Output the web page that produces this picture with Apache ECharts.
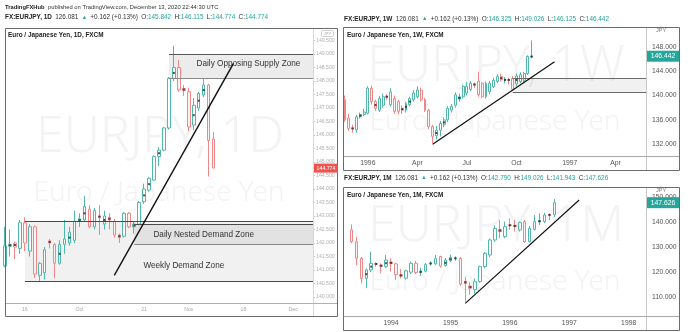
<!DOCTYPE html>
<html>
<head>
<meta charset="utf-8">
<script src="https://cdn.jsdelivr.net/npm/echarts@6/dist/echarts.min.js"></script>
<style>
html, body { margin: 0; padding: 0; background: #ffffff; }
#chart { width: 696px; height: 332px; }
</style>
</head>
<body>
<div id="chart"></div>
<script>
// ---- EUR/JPY candles, each row is [open, close, low, high] ----

// Daily, 10 Sep 1996 onwards (63 slots on the time axis, 43 candles)
const dailyCandles = [
  [141.15, 141.90, 141.10, 142.60],
  [141.88, 141.95, 141.50, 142.50],
  [142.00, 141.85, 141.40, 142.05],
  [141.80, 142.75, 141.60, 142.85],
  [142.75, 142.00, 141.70, 142.95],
  [141.70, 142.60, 141.50, 142.70],
  [142.60, 140.85, 140.70, 142.65],
  [140.80, 141.25, 140.60, 141.30],
  [140.90, 141.75, 140.65, 141.85],
  [142.08, 142.00, 141.80, 142.15],
  [141.95, 141.25, 140.70, 142.00],
  [141.25, 141.95, 141.20, 142.10],
  [141.95, 142.15, 141.60, 142.85],
  [142.00, 142.40, 141.90, 142.60],
  [142.10, 142.80, 142.00, 143.20],
  [142.80, 142.90, 142.60, 143.10],
  [142.85, 143.35, 142.80, 143.75],
  [143.25, 142.60, 142.55, 143.40],
  [142.60, 143.20, 142.50, 143.30],
  [143.00, 142.95, 142.30, 143.40],
  [142.70, 143.00, 142.50, 143.20],
  [142.95, 142.85, 142.50, 143.10],
  [142.80, 142.30, 142.20, 142.90],
  [142.30, 142.20, 142.00, 142.35],
  [142.25, 143.10, 142.20, 143.15],
  [143.10, 142.60, 142.55, 143.15],
  [142.60, 142.70, 142.35, 142.80],
  [142.70, 143.50, 142.65, 143.55],
  [143.53, 144.00, 143.45, 144.20],
  [143.96, 144.40, 143.90, 144.45],
  [144.33, 145.20, 144.30, 145.25],
  [145.20, 145.44, 144.85, 145.55],
  [145.44, 146.26, 145.40, 146.30],
  [146.26, 148.10, 146.20, 148.15],
  [148.10, 148.50, 148.00, 149.30],
  [148.50, 147.67, 147.60, 148.78],
  [147.72, 147.65, 147.45, 147.85],
  [147.60, 146.30, 146.15, 147.75],
  [146.37, 147.10, 146.19, 147.37],
  [147.00, 147.54, 146.90, 147.60],
  [147.48, 147.85, 147.40, 148.07],
  [147.85, 145.80, 144.46, 147.90],
  [145.842, 144.774, 144.774, 146.115]
];
const dailySlots = 63;
const dailyTicks = [[4, '16'], [15, 'Oct'], [28, '21'], [37, 'Nov'], [48, '18'], [58, 'Dec']];
const dailyPriceTicks = [140, 140.5, 141, 141.5, 142, 142.5, 143, 143.5, 144, 144.5,
                         145, 145.5, 146, 146.5, 147, 147.5, 148, 148.5, 149, 149.5];
const dailyMarked = [1, 2, 9, 11, 13, 15, 16, 19, 20, 21, 23, 26, 28, 29, 31, 34, 36, 38, 39, 40];
const dailyLast = 144.774;

// Daily zones: [from slot, low, high]
const supplyZone = [33, 148.10, 149.00];
const weeklyDemandZone = [4, 140.57, 142.79];
const nestedDemandZone = [26, 141.95, 142.69];
const dailyTrend = [[22, 140.80], [46, 148.65]];

// Weekly, week of 20 Nov 1995 onwards (80 slots, 50 candles)
const weeklyCandles = [
  [139.3, 136.0, 135.7, 140.0], [136.3, 134.6, 134.2, 137.0], [134.7, 134.5, 133.9, 135.2],
  [134.4, 136.5, 133.9, 136.8], [136.5, 136.9, 136.2, 137.2], [136.9, 137.3, 136.6, 137.8],
  [137.1, 141.2, 136.9, 141.5], [141.2, 139.0, 138.5, 141.6], [139.0, 137.9, 137.5, 139.3],
  [137.6, 139.5, 137.3, 139.9], [138.4, 139.8, 138.0, 140.3], [139.9, 139.7, 139.3, 140.2],
  [138.5, 140.6, 138.2, 141.2], [139.5, 137.4, 137.0, 140.0], [139.0, 137.4, 136.9, 139.3],
  [137.9, 137.6, 137.0, 138.4], [137.6, 138.7, 137.2, 139.0], [138.5, 139.5, 138.2, 139.8],
  [139.3, 140.4, 139.0, 140.9], [139.8, 140.9, 139.5, 141.5], [140.9, 139.3, 139.0, 141.3],
  [139.3, 137.6, 137.3, 139.6], [137.6, 134.9, 134.5, 137.8], [134.9, 133.3, 132.2, 135.2],
  [133.4, 134.3, 132.8, 135.0], [134.3, 135.4, 133.3, 135.8], [135.2, 136.0, 134.8, 136.4],
  [136.0, 137.9, 135.6, 138.3], [137.6, 138.2, 137.2, 138.6], [138.4, 140.1, 138.0, 140.5],
  [139.4, 139.8, 139.0, 140.3], [139.8, 141.5, 139.5, 141.8], [140.4, 141.5, 140.0, 142.2],
  [141.0, 142.0, 140.7, 142.4], [141.9, 141.7, 141.2, 142.1], [142.3, 140.1, 139.8, 143.9],
  [142.0, 139.8, 139.6, 142.2], [139.8, 142.0, 139.5, 142.3], [140.6, 142.0, 140.2, 142.4],
  [141.5, 142.5, 141.2, 142.9], [142.3, 143.1, 142.0, 143.5], [143.1, 142.6, 142.3, 143.6],
  [142.4, 142.7, 142.0, 143.0], [142.6, 142.5, 141.8, 142.9], [142.8, 141.0, 140.85, 143.2],
  [141.9, 143.2, 141.5, 143.6], [142.3, 143.4, 142.0, 143.8], [142.5, 143.6, 142.2, 143.9],
  [143.6, 146.4, 143.4, 146.6], [146.325, 146.442, 146.125, 149.026]
];
const weeklySlots = 80;
const weeklyTicks = [[6, '1996'], [19, 'Apr'], [32, 'Jul'], [45, 'Oct'], [59, '1997'], [71, 'Apr']];
const weeklyPriceTicks = [132, 136, 140, 144, 148];
const weeklyMarked = [2, 4, 8, 11, 15, 16, 17, 24, 26, 30, 34, 41, 42, 43, 45, 49];
const weeklyLast = 146.442;
const weeklyZone = [44, 140.57, 142.79];
const weeklyTrend = [[23, 132.0], [55, 145.55]];

// Monthly, Apr 1993 onwards (61 slots; Apr 1993 has no candle)
const monthlyCandles = [
  ['-', '-', '-', '-'],
  [136.8, 132.1, 131.5, 139.0], [132.1, 125.5, 122.8, 134.1], [125.5, 117.5, 115.5, 126.0],
  [117.5, 120.9, 113.6, 121.5], [120.9, 123.5, 120.0, 128.1], [123.4, 123.1, 122.2, 123.9],
  [122.8, 122.3, 119.5, 123.5], [122.3, 124.8, 121.6, 126.8], [124.0, 123.4, 120.2, 125.5],
  [123.3, 119.0, 116.8, 123.8], [119.0, 118.4, 117.5, 121.2], [117.6, 120.5, 117.0, 121.0],
  [120.0, 123.5, 119.3, 124.2], [123.5, 119.8, 119.2, 124.5], [119.8, 120.4, 118.5, 121.8],
  [120.4, 123.0, 119.9, 123.6], [123.3, 123.6, 122.6, 124.4], [123.3, 125.4, 122.9, 126.8],
  [126.2, 122.4, 121.8, 126.5], [122.6, 124.8, 122.2, 125.6], [124.5, 125.8, 123.9, 127.0],
  [125.4, 125.6, 124.5, 126.3], [125.5, 115.2, 114.5, 126.0], [116.4, 115.5, 108.2, 118.1],
  [114.5, 113.6, 111.0, 116.0], [113.0, 116.2, 111.5, 117.5], [116.2, 122.2, 115.8, 122.6],
  [122.2, 127.5, 121.5, 128.0], [126.8, 132.8, 126.0, 133.4], [132.8, 137.4, 132.0, 138.6],
  [137.0, 136.1, 133.4, 140.7], [134.1, 138.1, 133.5, 140.1], [138.8, 138.5, 136.8, 141.4],
  [138.6, 138.1, 136.1, 140.7], [136.8, 139.7, 136.1, 140.1], [140.1, 132.1, 131.5, 140.7],
  [132.1, 137.4, 131.8, 138.3], [137.0, 140.1, 136.5, 142.7], [140.0, 140.5, 138.7, 143.4],
  [140.1, 142.7, 139.5, 143.6], [142.9, 142.6, 140.7, 143.4], [142.79, 147.626, 141.943, 149.026]
];
const monthlySlots = 61;
const monthlyTicks = [[9, '1994'], [21, '1995'], [33, '1996'], [45, '1997'], [57, '1998']];
const monthlyPriceTicks = [110, 120, 130, 140, 150];
const monthlyMarked = [4, 5, 6, 7, 8, 9, 11, 15, 17, 20, 21, 22, 24, 25, 31, 33, 34, 39, 41];
const monthlyLast = 147.626;
const monthlyTrend = [[24, 107.6], [47, 148.7]];

// ---- styling ----
const UP = '#4fb8a8';
const DOWN = '#ee8787';
const TEAL = '#26a69a';
const RED = '#ef5350';
const FONT = '"Liberation Sans", Arial, sans-serif';

const slots = n => Array.from({ length: n }, (_, i) => i);
const tickMap = ticks => new Map(ticks);

function xAxisFor(grid, n, ticks, boundaryGap, fontSize, color, margin) {
  const m = tickMap(ticks);
  return {
    type: 'category', gridIndex: grid, data: slots(n), boundaryGap,
    axisLine: { show: false }, axisTick: { show: false }, splitLine: { show: false },
    axisLabel: {
      interval: (i) => m.has(i), formatter: (v, i) => m.get(i) || '',
      fontSize, color, margin, fontFamily: FONT
    }
  };
}

function yAxisFor(grid, min, max, values, fontSize, color, margin, tick) {
  return {
    type: 'value', gridIndex: grid, position: 'right', min, max, scale: true,
    axisLine: { show: false }, splitLine: { show: false },
    axisTick: tick ? { show: true, length: 2, lineStyle: { color: '#c8c8c8' }, customValues: values } : { show: false },
    axisLabel: { customValues: values, fontSize, color, margin, fontFamily: FONT,
                 formatter: v => v.toFixed(3) }
  };
}

function candles(idx, data, barWidth, extra) {
  return Object.assign({
    type: 'candlestick', xAxisIndex: idx, yAxisIndex: idx, data, barWidth, clip: true,
    itemStyle: { color: '#ffffff', color0: '#fff4f4', borderColor: UP, borderColor0: DOWN, borderWidth: 1 },
    emphasis: { disabled: true }
  }, extra || {});
}

function marks(idx, data, rows) {
  return {
    type: 'scatter', xAxisIndex: idx, yAxisIndex: idx, symbol: 'rect', symbolSize: [2, 2],
    itemStyle: { color: '#222' }, silent: true, z: 4,
    data: rows.map(i => [i, (data[i][0] + data[i][1]) / 2])
  };
}

function trendLine(seg, width) {
  return [{ coord: seg[0], lineStyle: { color: '#111', width, type: 'solid' } }, { coord: seg[1] }];
}

function zoneLines(zone, lastSlot, topColor, bottomColor) {
  return [
    [{ coord: [zone[0], zone[2]], lineStyle: { color: topColor, width: 1, type: 'solid' } }, { coord: [lastSlot, zone[2]] }],
    [{ coord: [zone[0], zone[1]], lineStyle: { color: bottomColor, width: 1, type: 'solid' } }, { coord: [lastSlot, zone[1]] }]
  ];
}

function zoneArea(zone, lastSlot, fill) {
  return [{ xAxis: zone[0], yAxis: zone[2], itemStyle: { color: fill } }, { xAxis: lastSlot, yAxis: zone[1] }];
}

function zoneText(text, coord) {
  return { coord, symbolSize: 0, label: { show: true, position: 'inside', formatter: text,
           color: '#333', fontSize: 8.2, fontFamily: FONT } };
}

// ---- static text and frames ----
const g = [];
function text(x, y, str, style) {
  g.push({ type: 'text', x, y, silent: true, z: 20,
           style: Object.assign({ text: str, fill: '#333', font: '6px ' + FONT }, style || {}) });
}
function line(x1, y1, x2, y2, color, z) {
  g.push({ type: 'line', silent: true, z: z || 15, shape: { x1, y1, x2, y2 },
           style: { stroke: color, lineWidth: 1 } });
}
function frame(x, y, w, h) {
  g.push({ type: 'rect', silent: true, z: 21, shape: { x, y, width: w, height: h },
           style: { fill: 'none', stroke: '#6b6b6b', lineWidth: 1 } });
}
function watermark(cx, cy, str, size) {
  g.push({ type: 'text', x: cx, y: cy, silent: true, z: 0,
           style: { text: str, fill: '#f3f3f5', font: '300 ' + size + 'px "Noto Sans", sans-serif',
                    textAlign: 'center', textVerticalAlign: 'middle' } });
}

function richStyles(size) {
  return {
    b: { fontWeight: 'bold', fontSize: size, fontFamily: FONT, fill: '#222' },
    n: { fontSize: size, fontFamily: FONT, fill: '#333' },
    u: { fontSize: size - 1, fontFamily: FONT, fill: TEAL },
    v: { fontSize: size, fontFamily: FONT, fill: TEAL }
  };
}
function quoteLine(x, y, label, o, h, l, c) {
  g.push({ type: 'text', x, y, silent: true, z: 20, style: {
    text: '{b|FX:EURJPY, ' + label + '} {n|126.081} {u|▲} {n|+0.162 (+0.13%)} {n|O:}{v|' + o + '} {n|H:}{v|' + h +
          '} {n|L:}{v|' + l + '} {n|C:}{v|' + c + '}',
    rich: richStyles(6.4), textVerticalAlign: 'middle' } });
}

watermark(160, 138, 'EURJPY, 1D', 50);
watermark(159, 193, 'Euro / Japanese Yen', 28);
watermark(496, 67, 'EURJPY, 1W', 50);
watermark(495, 122, 'Euro / Japanese Yen', 28);
watermark(496, 227, 'EURJPY, 1M', 50);
watermark(495, 282, 'Euro / Japanese Yen', 28);

g.push({ type: 'text', x: 5, y: 7, silent: true, z: 20, style: {
  text: '{b|TradingFXHub} {n|published on TradingView.com, December 13, 2020 22:44:30 UTC}',
  rich: richStyles(5.8), textVerticalAlign: 'middle' } });
quoteLine(5, 17.5, '1D', '145.842', '146.115', '144.774', '144.774');
quoteLine(344, 19, '1W', '146.325', '149.026', '146.125', '146.442');
quoteLine(344, 178, '1M', '142.790', '149.026', '141.943', '147.626');

text(8, 35, 'Euro / Japanese Yen, 1D, FXCM', { font: 'bold 6.4px ' + FONT, fill: '#222', textVerticalAlign: 'middle' });
text(347, 35, 'Euro / Japanese Yen, 1W, FXCM', { font: 'bold 6.4px ' + FONT, fill: '#222', textVerticalAlign: 'middle' });
text(347, 195, 'Euro / Japanese Yen, 1M, FXCM', { font: 'bold 6.4px ' + FONT, fill: '#222', textVerticalAlign: 'middle' });

g.push({ type: 'rect', silent: true, z: 20, shape: { x: 321.5, y: 30.5, width: 12, height: 6, r: 1 },
         style: { fill: '#fff', stroke: '#d0d0d0', lineWidth: 1 } });
text(327.5, 33.6, 'JPY', { font: '4px ' + FONT, fill: '#aaa', textAlign: 'center', textVerticalAlign: 'middle' });
text(661, 30, 'JPY', { font: '5.5px ' + FONT, fill: '#777', textAlign: 'center', textVerticalAlign: 'middle' });
text(661, 190, 'JPY', { font: '5.5px ' + FONT, fill: '#777', textAlign: 'center', textVerticalAlign: 'middle' });

// axis separators
line(313.5, 29, 313.5, 316, '#d8d8d8');
line(5, 303.5, 338, 303.5, '#b0b0b0');
line(646.5, 28, 646.5, 170, '#c8c8c8');
line(344, 156.5, 679, 156.5, '#a8a8a8');
line(646.5, 188, 646.5, 330, '#c8c8c8');
line(344, 316.5, 679, 316.5, '#a8a8a8');

// panel frames
frame(5.5, 28.5, 332, 288);
frame(343.5, 27.5, 336, 143);
frame(343.5, 187.5, 336, 143);

// ---- chart ----
const chart = echarts.init(document.getElementById('chart'), null, { renderer: 'canvas' });
const dLast = dailySlots - 1, wLast = weeklySlots - 1;

chart.setOption({
  animation: false,
  backgroundColor: '#ffffff',
  grid: [
    { left: 5, top: 29, width: 308, height: 274 },
    { left: 345, top: 28, width: 301, height: 128 },
    { left: 344, top: 188, width: 302, height: 128 }
  ],
  xAxis: [
    xAxisFor(0, dailySlots, dailyTicks, false, 5.2, '#a8a8a8', 4),
    xAxisFor(1, weeklySlots, weeklyTicks, false, 6.8, '#555', 4),
    xAxisFor(2, monthlySlots, monthlyTicks, true, 6.8, '#555', 4)
  ],
  yAxis: [
    yAxisFor(0, 139.778, 149.926, dailyPriceTicks, 5.2, '#b0b0b0', 3, true),
    yAxisFor(1, 130.08, 151.07, weeklyPriceTicks, 6.8, '#555', 6, false),
    yAxisFor(2, 102.56, 153.46, monthlyPriceTicks, 6.8, '#555', 6, false)
  ],
  graphic: { elements: g },
  series: [
    candles(0, dailyCandles, 3, {
      markArea: {
        silent: true,
        data: [
          zoneArea(weeklyDemandZone, dLast, 'rgba(0,0,0,0.055)'),
          zoneArea(nestedDemandZone, dLast, 'rgba(0,0,0,0.06)'),
          zoneArea(supplyZone, dLast, 'rgba(0,0,0,0.075)')
        ]
      },
      markLine: {
        silent: true, symbol: 'none', label: { show: false },
        data: [].concat(
          zoneLines(weeklyDemandZone, dLast, '#4a4a4a', '#4a4a4a'),
          zoneLines(nestedDemandZone, dLast, '#4a4a4a', '#8a8a8a'),
          zoneLines(supplyZone, dLast, '#5a5a5a', '#8a8a8a'),
          [trendLine(dailyTrend, 1.4)]
        )
      },
      markPoint: {
        silent: true, symbol: 'circle',
        data: [
          zoneText('Daily Opposing Supply Zone', [49, 148.63]),
          zoneText('Daily Nested Demand Zone', [40.4, 142.3]),
          zoneText('Weekly Demand Zone', [35.5, 141.16])
        ]
      }
    }),
    marks(0, dailyCandles, dailyMarked),

    candles(1, weeklyCandles, 2.4, {
      markArea: { silent: true, data: [zoneArea(weeklyZone, wLast, 'rgba(0,0,0,0.055)')] },
      markLine: {
        silent: true, symbol: 'none', label: { show: false },
        data: [].concat(zoneLines(weeklyZone, wLast, '#6a6a6a', '#6a6a6a'), [trendLine(weeklyTrend, 1.2)])
      }
    }),
    marks(1, weeklyCandles, weeklyMarked),

    candles(2, monthlyCandles, 3, {
      markLine: { silent: true, symbol: 'none', label: { show: false }, data: [trendLine(monthlyTrend, 1.2)] }
    }),
    marks(2, monthlyCandles, monthlyMarked)
  ]
});

// last-price badges on the price scales, placed through each panel's y axis
function badge(axisIdx, value, x, w, bg, fontSize, h) {
  const y = chart.convertToPixel({ yAxisIndex: axisIdx }, value);
  g.push({ type: 'rect', silent: true, z: 22, shape: { x, y: y - h / 2, width: w, height: h },
           style: { fill: bg } });
  g.push({ type: 'text', x: x + w / 2, y: y + 0.3, silent: true, z: 23,
           style: { text: value.toFixed(3), fill: '#fff', font: fontSize + 'px ' + FONT,
                    textAlign: 'center', textVerticalAlign: 'middle' } });
}
badge(0, dailyLast, 314, 24, RED, 5.2, 9);
badge(1, weeklyLast, 647, 32, TEAL, 6.8, 11);
badge(2, monthlyLast, 647, 32, TEAL, 6.8, 11);
chart.setOption({ graphic: { elements: g } });
</script>
</body>
</html>
